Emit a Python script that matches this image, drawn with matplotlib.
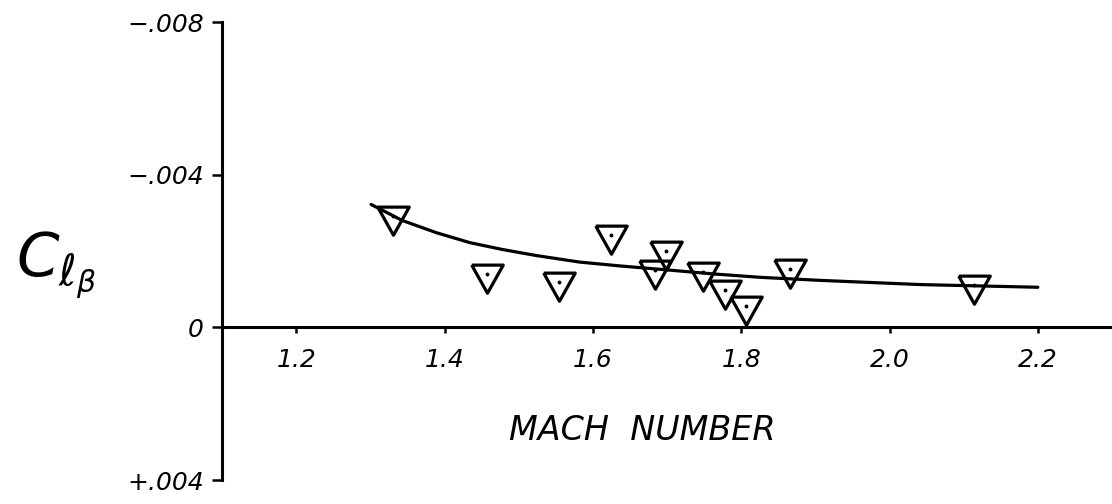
import matplotlib
matplotlib.use("Agg")
import matplotlib.pyplot as plt
import numpy as np

# ---- data ----
mach_points = [1.330, 1.457, 1.555, 1.624, 1.699, 1.684, 1.749, 1.778, 1.807, 1.866, 2.114]
clb_points = [-0.00293, -0.00139, -0.00120, -0.00241, -0.00199, -0.00149, -0.00146,
              -0.00097, -0.00055, -0.00152, -0.00112]

mach_curve = [1.301, 1.343, 1.389, 1.434, 1.478, 1.524, 1.582, 1.636, 1.691,
              1.762, 1.826, 1.907, 2.042, 2.200]
clb_curve = [-0.00322, -0.00280, -0.00248, -0.00222, -0.00204, -0.00188, -0.00171,
             -0.00161, -0.00152, -0.00140, -0.00131, -0.00123, -0.00112, -0.00105]

x_ticks = [1.2, 1.4, 1.6, 1.8, 2.0, 2.2]
x_ticklabels = ["1.2", "1.4", "1.6", "1.8", "2.0", "2.2"]
y_ticks = [-0.008, -0.004, 0.0, 0.004]
y_ticklabels = ["\u2212.008", "\u2212.004", "0", "+.004"]

# ---- figure ----
W, H = 1112, 504
fig = plt.figure(figsize=(W / 100, H / 100), dpi=100)
ax = fig.add_axes([222 / W, 24 / H, 890 / W, 458 / H])
ax.set_xlim(1.1, 2.3)
ax.set_ylim(0.004, -0.008)

for s in ("top", "right"):
    ax.spines[s].set_visible(False)
ax.spines["bottom"].set_position(("data", 0))
ax.spines["bottom"].set_linewidth(2.2)
ax.spines["left"].set_linewidth(2.2)

ax.set_xticks(x_ticks)
ax.set_xticklabels(x_ticklabels, fontsize=18, fontstyle="italic")
ax.set_yticks(y_ticks)
ax.set_yticklabels(y_ticklabels, fontsize=18, fontstyle="italic")
ax.tick_params(axis="x", direction="out", length=4, width=1.8, pad=11)
ax.tick_params(axis="y", direction="out", length=7, width=1.8, pad=6)

# fitted curve
ax.plot(mach_curve, clb_curve, color="black", lw=2.3, solid_capstyle="round",
        solid_joinstyle="round", zorder=2)

# open down-triangles centred on their centroid, with centre dot
tri = [(-0.84, 0.5), (0.84, 0.5), (0.0, -1.0), (-0.84, 0.5)]
ax.plot(mach_points, clb_points, linestyle="none", marker=tri, markersize=27,
        markerfacecolor="none", markeredgecolor="black", markeredgewidth=2.3, zorder=3)
ax.plot(mach_points, clb_points, linestyle="none", marker="o", markersize=1.8,
        color="black", zorder=4)

# labels
fig.text(56 / W, 1 - 265 / H, r"$C_{\ell_\beta}$", fontsize=44, ha="center", va="center")
fig.text(642 / W, 1 - 430 / H, "MACH  NUMBER", fontsize=24, fontstyle="italic",
         ha="center", va="center")

fig.savefig("out.png", dpi=100)
